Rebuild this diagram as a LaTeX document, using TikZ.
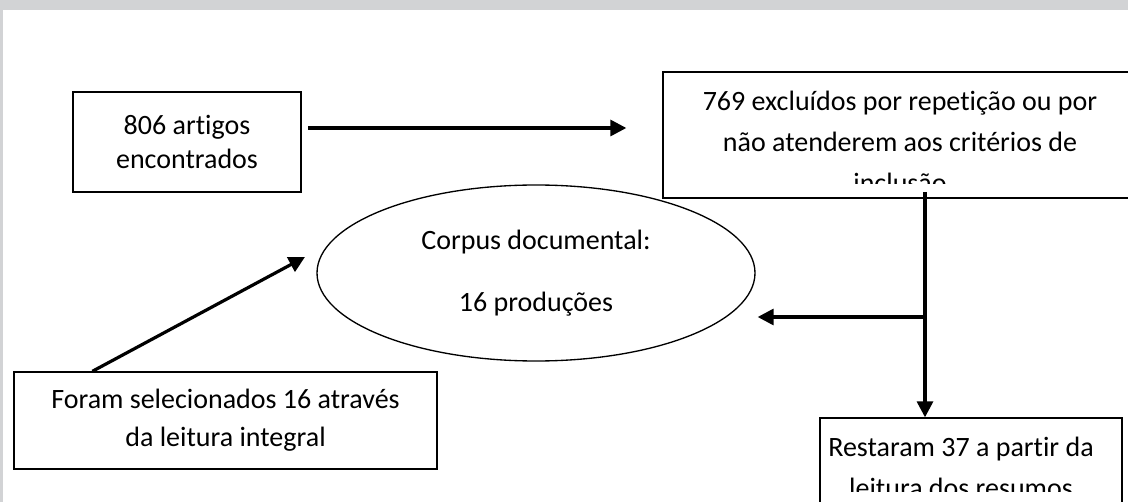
\documentclass[tikz,border=0pt]{standalone}
\usepackage{fontspec}
\setmainfont{Carlito}[Ligatures=NoCommon]
\usepackage{tikz}
\usetikzlibrary{arrows.meta,calc,shapes.geometric}

\definecolor{framegray}{RGB}{210,211,213}

\tikzset{
  box/.style={draw, line width=1pt, rectangle, align=center, inner sep=0pt},
  link/.style={line width=2.4pt, -{Triangle[length=12pt,width=12pt]}},
  txt/.style={align=center, inner sep=0pt}
}

\begin{document}
\begin{tikzpicture}[x=0.75pt, y=-0.75pt, font=\fontsize{21}{26}\selectfont]
  \useasboundingbox (0,0) rectangle (1128,502);
  \clip (0,0) rectangle (1128,502);
  \fill[white] (0,0) rectangle (1128,502);
  \fill[framegray] (0,0) rectangle (1128,10);
  \fill[framegray] (0,0) rectangle (3,502);

  % boxes
  \node[box, minimum width=171pt, minimum height=75pt] (found) at (187,142)
    {806 artigos\\encontrados};
  \node[box, minimum width=357.75pt, minimum height=94.5pt] (excl) at (901.5,135) {};
  \node[draw, ellipse, line width=1pt, inner sep=0pt, minimum width=328.5pt,
        minimum height=132pt, align=center,
        font=\fontsize{21}{47}\selectfont] (corpus) at (536,273)
    {Corpus documental:\\16 produções};
  \node[box, minimum width=317.25pt, minimum height=72.75pt,
        font=\fontsize{21}{28.5}\selectfont] (sel) at (225.5,420.5)
    {Foram selecionados 16 através\\da leitura integral};
  \node[box, minimum width=226.5pt, minimum height=76.5pt] (rest) at (971,469) {};

  % clipped texts
  \begin{scope}
    \clip (663,72) rectangle (1128,184);
    \node[txt, font=\fontsize{21}{31}\selectfont] (excltxt) at (900,142)
      {769 excluídos por repetição ou por\\não atenderem aos critérios de\\inclusão};
  \end{scope}
  \begin{scope}
    \clip (820,418) rectangle (1122,491);
    \node[txt, font=\fontsize{21}{31}\selectfont] (resttxt) at (961,467.5)
      {Restaram 37 a partir da\\leitura dos resumos};
  \end{scope}

  % connectors
  \coordinate (top) at (925,192);
  \coordinate (split) at (925,317);
  \coordinate (aim) at (305,257);
  \draw[link, shorten <=5pt, shorten >=27pt] (found.east |- 0,128) -- (excl.west |- 0,128);
  \draw[line width=2.4pt] (top) -- (split);
  \draw[link] (split) -- (split |- rest.north);
  \draw[link, shorten >=1.5pt] (split) -- (split -| corpus.east);
  \draw[link] ($(sel.north west)+(79,0)$) -- (aim);
\end{tikzpicture}
\end{document}
